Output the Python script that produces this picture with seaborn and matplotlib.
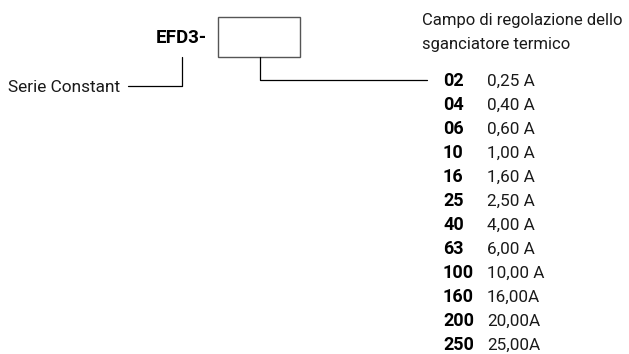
import matplotlib.pyplot as plt
import seaborn as sns
from matplotlib.patches import Rectangle

codes = ['02', '04', '06', '10', '16', '25', '40', '63', '100', '160', '200', '250']
values = ['0,25 A', '0,40 A', '0,60 A', '1,00 A', '1,60 A', '2,50 A',
          '4,00 A', '6,00 A', '10,00 A', '16,00A', '20,00A', '25,00A']
prefix = 'EFD3-'
series_label = 'Serie Constant'
title_lines = ['Campo di regolazione dello', 'sganciatore termico']

sns.set_theme(style='white')
plt.rcParams['font.family'] = ['Roboto', 'DejaVu Sans']

fig = plt.figure(figsize=(6.29, 3.54), dpi=100)
ax = fig.add_axes([0, 0, 1, 1])
ax.set_xlim(0, 629)
ax.set_ylim(354, 0)
ax.axis('off')

txt = '#1a1a1a'
# product code and box
ax.text(207, 38, prefix, ha='right', va='center', fontsize=13.5, fontweight='bold', color='black')
ax.add_patch(Rectangle((218, 17), 82, 40, fill=False, edgecolor='#555555', lw=1.0))

# series connector
ax.plot([182, 182, 128], [57, 86, 86], color='black', lw=0.9)
ax.text(8, 87, series_label, ha='left', va='center', fontsize=12.4, color=txt)

# range connector
ax.plot([260, 260, 427], [57, 80, 80], color='black', lw=0.9)

# title
for i, line in enumerate(title_lines):
    ax.text(422, 21 + i * 24, line, ha='left', va='center', fontsize=12, color=txt)

# table of codes
row0, step = 81, 24
for i, (c, v) in enumerate(zip(codes, values)):
    y = row0 + i * step
    ax.text(443, y, c, ha='left', va='center', fontsize=13, fontweight='bold', color='black')
    ax.text(487, y, v, ha='left', va='center', fontsize=12.3, color=txt)

fig.savefig('out.png', dpi=100, facecolor='white')
